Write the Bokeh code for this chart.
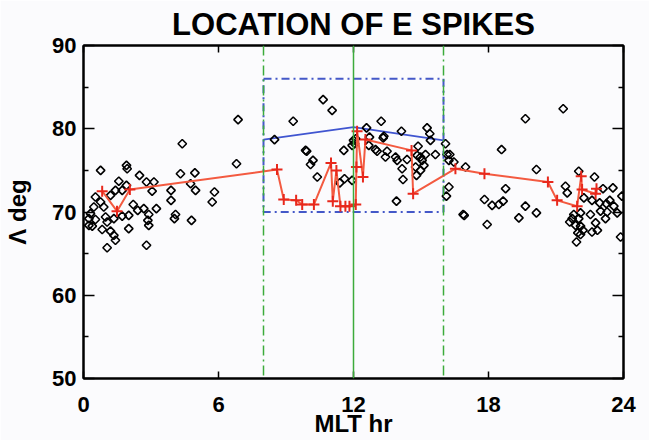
import numpy as np
from bokeh.plotting import figure
from bokeh.models import Range1d, FixedTicker, LinearAxis, Span
from bokeh.embed import file_html
from bokeh.resources import INLINE

# ---- data ----
mlt_pts = [0.24, 0.24, 0.31, 0.39, 0.46, 0.53, 0.53, 0.76, 0.76, 0.83, 0.90, 0.98, 1.05, 1.05,
           1.20, 1.20, 1.35, 1.35, 1.42, 1.42, 1.57, 1.72, 1.72, 1.91, 1.94, 1.91, 2.01, 2.01,
           2.21, 2.41, 2.49, 2.68, 2.80, 2.80, 2.86, 2.90, 2.90, 3.05, 3.13, 3.24, 3.89, 3.89,
           4.09, 4.04, 4.80, 4.31, 4.95, 4.76, 4.98, 5.82, 5.72, 4.39, 6.87, 6.80,
           8.49, 9.32, 10.65, 11.05, 9.87, 9.92, 10.20, 10.09, 10.39, 11.57, 11.94, 11.60, 11.39,
           11.94, 12.00, 12.10, 12.05, 12.58, 12.71, 12.68, 12.98, 13.05, 13.23, 13.32, 13.35,
           13.49, 13.42, 13.87, 13.94, 14.13, 14.38, 14.16, 14.20, 14.87, 14.83, 14.98, 15.05,
           14.76, 14.98, 15.13, 14.80, 15.20, 15.27, 15.39, 15.42, 15.64, 13.91, 16.09, 16.16,
           16.28, 16.24, 16.46, 16.24, 16.13, 16.98, 16.87, 16.92,
           21.32, 19.64, 18.58, 20.13, 18.76, 17.82, 18.16, 18.46, 18.65, 17.94, 19.35, 19.64,
           20.13, 21.42, 21.50, 22.01, 22.71, 23.09, 23.53, 23.93, 22.24, 22.60, 22.94, 23.24,
           23.39, 23.57, 23.72, 23.27, 22.98, 22.53, 22.09, 21.79, 21.72, 21.61, 22.01, 21.87,
           22.09, 22.20, 21.97, 22.09, 21.91, 22.60, 22.84, 23.20, 23.87, 22.76]
lat_pts = [69.2, 68.4, 69.8, 68.3, 70.6, 71.8, 69.1, 75.0, 71.2, 67.9, 70.6, 69.4, 68.8, 65.7,
           72.0, 67.7, 69.2, 67.2, 66.6, 72.6, 73.7, 72.6, 69.5, 75.6, 75.2, 73.2, 69.6, 68.0,
           70.9, 70.2, 74.4, 70.4, 73.6, 66.0, 69.0, 68.4, 69.7, 72.5, 73.6, 70.4, 72.6, 71.4,
           69.7, 69.2, 69.0, 74.6, 74.7, 73.4, 72.6, 72.4, 71.2, 78.2, 81.1, 75.8,
           78.7, 80.9, 83.5, 82.2, 77.4, 77.3, 76.2, 75.7, 74.2, 77.4, 78.0, 74.0, 73.5,
           73.8, 78.6, 78.8, 78.2, 80.1, 79.0, 78.0, 77.5, 77.3, 80.9, 78.9, 79.1,
           77.3, 76.6, 76.6, 76.2, 79.7, 76.3, 75.2, 73.9, 77.9, 76.8, 76.6, 76.2,
           75.4, 75.0, 75.6, 74.4, 76.9, 80.1, 79.4, 78.6, 76.9, 71.3, 78.2, 76.9,
           76.9, 76.2, 76.0, 73.0, 71.9, 75.4, 69.7, 69.6,
           82.4, 81.2, 77.5, 75.1, 72.8, 71.5, 70.8, 70.9, 71.3, 68.5, 69.3, 70.7,
           69.9, 73.1, 72.3, 74.9, 74.2, 72.8, 72.9, 71.9, 71.7, 71.4, 71.1, 71.0,
           71.4, 70.7, 69.9, 70.0, 70.1, 69.7, 69.9, 69.7, 69.2, 68.8, 69.2, 68.4,
           68.3, 67.8, 67.5, 67.3, 66.4, 67.6, 67.8, 69.2, 67.0, 68.7]

mlt_red = [0.83, 1.49, 2.06, 8.60, 8.90, 9.45, 9.72, 10.24, 11.00, 11.08, 11.24, 11.42, 11.64,
           11.82, 12.10, 12.13, 12.16, 12.42, 12.53, 14.58, 14.65, 16.53, 17.82, 20.64, 21.05,
           21.94, 22.12, 22.16, 22.76, 22.80]
lat_red = [72.5, 70.1, 72.7, 75.1, 71.5, 71.4, 70.9, 70.9, 75.9, 71.3, 75.0, 70.7, 70.7,
           70.7, 70.9, 75.4, 79.7, 74.2, 78.7, 77.4, 72.2, 75.2, 74.6, 73.6, 71.4,
           70.7, 74.3, 72.7, 72.2, 72.8]

mlt_blue = [8.0, 12.0, 16.0]
lat_blue = [78.7, 80.2, 78.6]

box_mlt = [8.0, 16.0]
box_lat = [70.0, 86.0]
green_mlt = [8.0, 12.0, 16.0]
green_dash = ["10 4 2 4", "solid", "10 4 2 4"]

x_ticks = [0, 6, 12, 18, 24]
y_ticks = [50, 60, 70, 80, 90]
y_minor = [55, 65, 75, 85]

FONT = "Liberation Sans"
TITLE_FONT = "'Liberation Sans Narrow', 'Liberation Sans'"
BG = "#fbfbfd"

p = figure(width=649, height=440, output_backend="svg", toolbar_location=None,
           x_range=Range1d(0, 24), y_range=Range1d(50, 90),
           min_border_left=83, min_border_right=26, min_border_top=45, min_border_bottom=62,
           background_fill_color=BG, border_fill_color=BG)
p.grid.visible = False
p.outline_line_color = "black"
p.outline_line_width = 2

p.title.text = "LOCATION OF E SPIKES"
p.title.align = "center"
p.title.text_font = TITLE_FONT
p.title.text_font_style = "bold"
p.title.text_font_size = "31px"
p.title.text_color = "black"
p.title.standoff = 7

def style_axis(ax, ticks, minor, tick_in, show_labels):
    ax.ticker = FixedTicker(ticks=ticks, minor_ticks=minor)
    ax.axis_line_color = "black"
    ax.axis_line_width = 2
    ax.major_tick_in = tick_in
    ax.major_tick_out = 0
    ax.minor_tick_in = 5
    ax.minor_tick_out = 0
    ax.major_tick_line_color = "black"
    ax.minor_tick_line_color = "black"
    ax.major_tick_line_width = 1.5
    ax.minor_tick_line_width = 1.5
    ax.major_label_text_font = FONT
    ax.major_label_text_font_style = "bold"
    ax.major_label_text_color = "black"
    if show_labels:
        ax.major_label_text_font_size = "22px"
    else:
        ax.major_label_text_alpha = 0
        ax.major_label_text_color = None
        ax.major_label_text_font_size = "1px"
        ax.major_label_standoff = 0

style_axis(p.xaxis[0], x_ticks, [], 7, True)
style_axis(p.yaxis[0], y_ticks, y_minor, 11, True)
p.xaxis[0].major_label_standoff = 18
p.yaxis[0].major_label_standoff = 7

p.xaxis[0].axis_label = "MLT hr"
p.yaxis[0].axis_label = "\u039b deg"
for ax in (p.xaxis[0], p.yaxis[0]):
    ax.axis_label_text_font = FONT
    ax.axis_label_text_font_style = "bold"
    ax.axis_label_text_font_size = "24px"
    ax.axis_label_text_color = "black"
p.xaxis[0].axis_label_standoff = -5
p.yaxis[0].axis_label_standoff = 18

top_ax = LinearAxis()
style_axis(top_ax, x_ticks, [], 7, False)
p.add_layout(top_ax, "above")
right_ax = LinearAxis()
style_axis(right_ax, y_ticks, y_minor, 11, False)
p.add_layout(right_ax, "right")

# green reference lines
for loc, dash in zip(green_mlt, green_dash):
    p.add_layout(Span(location=loc, dimension="height", line_color="#3cab3c",
                      line_width=1.5, line_dash=dash))

# blue dash-dot box
p.quad(left=[box_mlt[0]], right=[box_mlt[1]], bottom=[box_lat[0]], top=[box_lat[1]],
       fill_color=None, line_color="#4458c8", line_width=2, line_dash="8 4 2 4")

# blue solid line
p.line(mlt_blue, lat_blue, line_color="#4055d0", line_width=1.8)

# diamonds
p.scatter(mlt_pts, lat_pts, marker="square", angle=np.pi / 4, size=6,
          fill_color=None, line_color="black", line_width=1.6)

# red line with crosses
p.line(mlt_red, lat_red, line_color="#f35a40", line_width=2)
p.scatter(mlt_red, lat_red, marker="cross", size=11, line_color="#e8281c", line_width=2)

open("out.html", "w").write(file_html(p, INLINE))
